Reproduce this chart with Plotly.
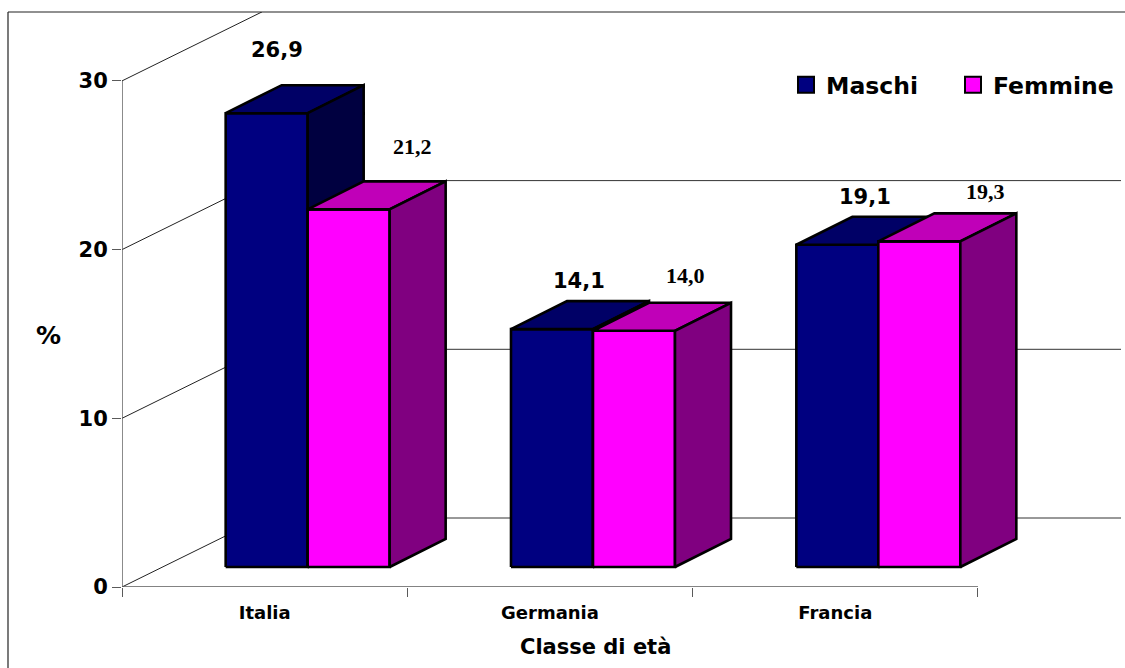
import plotly.graph_objects as go

categories = ["Italia", "Germania", "Francia"]
maschi = [26.9, 14.1, 19.1]
femmine = [21.2, 14.0, 19.3]
maschi_labels = ["26,9", "14,1", "19,1"]
femmine_labels = ["21,2", "14,0", "19,3"]
y_ticks = [0, 10, 20, 30]
x_edges = [0, 1, 2, 3]

# figure geometry (pixels)
W, H = 1125, 668
L, R, T, B = 122, 4, 12, 81
PX_X = 285.33            # px per category
PX_Y = 16.87             # px per % point
plot_w = W - L - R
plot_h = H - T - B
X_MAX = plot_w / PX_X
Y_MAX = plot_h / PX_Y

# oblique projection (in data units)
wall_dx, wall_dy = 140 / PX_X, 69 / PX_Y
base_dx, base_dy = 43 / PX_X, 20 / PX_Y
depth_dx, depth_dy = 56 / PX_X, 28 / PX_Y
bar_w = 82 / PX_X

EDGE = "#000000"
AXIS = "#5a5a5a"
M_FRONT, M_TOP, M_SIDE = "#000080", "#000066", "#000040"
F_FRONT, F_TOP, F_SIDE = "#FF00FF", "#C000B8", "#800080"

fig = go.Figure()


def line(xs, ys, color, width):
    fig.add_trace(go.Scatter(x=xs, y=ys, mode="lines", showlegend=False, hoverinfo="skip",
                             line=dict(color=color, width=width), cliponaxis=False))


def poly(xs, ys, fill):
    fig.add_trace(go.Scatter(x=xs + xs[:1], y=ys + ys[:1], mode="lines", fill="toself",
                             fillcolor=fill, showlegend=False, hoverinfo="skip",
                             line=dict(color=EDGE, width=2.6), cliponaxis=False))


def bar(x0, value, front, top, side):
    x1 = x0 + bar_w
    y0 = base_dy
    y1 = base_dy + value
    poly([x0, x1, x1, x0], [y0, y0, y1, y1], front)
    poly([x0, x1, x1 + depth_dx, x0 + depth_dx], [y1, y1, y1 + depth_dy, y1 + depth_dy], top)
    poly([x1, x1 + depth_dx, x1 + depth_dx, x1], [y0, y0 + depth_dy, y1 + depth_dy, y1], side)


# back wall grid and side-wall diagonals
for v in y_ticks:
    line([0, wall_dx], [v, v + wall_dy], "#222222", 1)
    if v < 30:
        line([wall_dx, X_MAX], [v + wall_dy, v + wall_dy], "#333333", 1)

# axis lines
line([0, 0], [0, 30], AXIS, 1.4)
line([0, 3], [0, 0], AXIS, 1.4)

# bars
for i in range(len(categories)):
    left = i + 0.5 + base_dx - bar_w
    bar(left, maschi[i], M_FRONT, M_TOP, M_SIDE)
    bar(left + bar_w, femmine[i], F_FRONT, F_TOP, F_SIDE)

# legend
for name, color in [("Maschi", M_FRONT), ("Femmine", F_FRONT)]:
    fig.add_trace(go.Scatter(x=[None], y=[None], mode="markers", name=name,
                             marker=dict(symbol="square", size=16, color=color,
                                         line=dict(color=EDGE, width=2))))

SANS = "DejaVu Sans"
SERIF = "Liberation Serif"
annotations = []

# value labels: hand-placed offsets from the top of each bar
m_shift = [(10, 63), (27, 48), (28, 48)]
f_shift = [(64, 63), (52, 55), (66, 50)]
for i in range(len(categories)):
    left = i + 0.5 + base_dx - bar_w
    annotations.append(dict(x=left + bar_w / 2, y=base_dy + maschi[i], text=f"<b>{maschi_labels[i]}</b>",
                            xref="x", yref="y", showarrow=False, xshift=m_shift[i][0], yshift=m_shift[i][1],
                            font=dict(family=SANS, size=21, color="#000000")))
    annotations.append(dict(x=left + 1.5 * bar_w, y=base_dy + femmine[i], text=f"<b>{femmine_labels[i]}</b>",
                            xref="x", yref="y", showarrow=False, xshift=f_shift[i][0], yshift=f_shift[i][1],
                            font=dict(family=SERIF, size=22, color="#000000")))

annotations.append(dict(x=(595 - L) / plot_w, y=(H - B - 647) / plot_h, xref="paper", yref="paper",
                        xanchor="center", yanchor="middle",
                        text="<b>Classe di età</b>", showarrow=False,
                        font=dict(family=SANS, size=21, color="#000000")))
annotations.append(dict(x=(48 - L) / plot_w, y=(H - B - 335) / plot_h, xref="paper", yref="paper",
                        xanchor="center", yanchor="middle",
                        text="<b>%</b>", showarrow=False,
                        font=dict(family=SANS, size=25, color="#000000")))

shapes = [
    dict(type="line", xref="paper", yref="paper", x0=(8 - L) / plot_w, x1=(W - L) / plot_w, y0=1, y1=1,
         line=dict(color="#222222", width=1.2)),
    dict(type="line", xref="paper", yref="paper", x0=(8 - L) / plot_w, x1=(8 - L) / plot_w, y0=1,
         y1=(H - B - H - 2) / plot_h, line=dict(color="#222222", width=1.2)),
]

fig.update_layout(
    width=W, height=H, autosize=False,
    margin=dict(l=L, r=R, t=T, b=B, autoexpand=False),
    paper_bgcolor="white", plot_bgcolor="white",
    showlegend=True,
    legend=dict(orientation="h", x=(786 - L) / plot_w, xanchor="left", y=(H - B - 85) / plot_h, yanchor="middle",
                entrywidth=122, entrywidthmode="pixels", itemclick=False, itemdoubleclick=False,
                bgcolor="rgba(0,0,0,0)", font=dict(family=SANS, size=23.5, color="#000000", weight="bold")),
    xaxis=dict(range=[0, X_MAX], showgrid=False, zeroline=False, showline=False,
               tickmode="array", tickvals=[0.5, 1.5, 2.5], ticktext=[f"<b>{c}</b>" for c in categories],
               ticks="", ticklabelstandoff=13, tickfont=dict(family=SANS, size=18, color="#000000"),
               minor=dict(tickmode="array", tickvals=x_edges, ticks="outside", ticklen=9, tickcolor=AXIS, tickwidth=1.2,
                          showgrid=False)),
    yaxis=dict(range=[0, Y_MAX], showgrid=False, zeroline=False, showline=False,
               tickmode="array", tickvals=y_ticks, ticktext=[f"<b>{v}</b>" for v in y_ticks],
               ticks="outside", ticklen=9, tickcolor=AXIS, tickwidth=1.2,
               tickfont=dict(family=SANS, size=21, color="#000000")),
    annotations=annotations, shapes=shapes,
)

fig.write_html("out.html", config=dict(displayModeBar=False),
               post_script="document.body.style.margin='0';")
